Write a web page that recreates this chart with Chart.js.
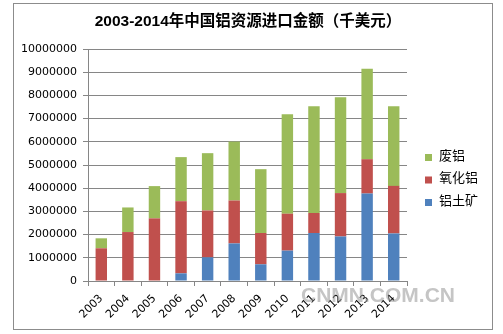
<!DOCTYPE html>
<html>
<head>
<meta charset="utf-8">
<script src="https://cdn.jsdelivr.net/npm/chart.js@4/dist/chart.umd.min.js"></script>
<style>
html,body{margin:0;padding:0;background:#fff;}
#wrap{position:relative;width:503px;height:334px;}
</style>
</head>
<body>
<div id="wrap"><canvas id="c" width="503" height="334"></canvas></div>
<script>
const titleText = '2003-2014年中国铝资源进口金额（千美元）';
const categories = ['2003','2004','2005','2006','2007','2008','2009','2010','2011','2012','2013','2014'];
const bauxite = [0, 0, 0, 330000, 1020000, 1620000, 720000, 1310000, 2070000, 1920000, 3770000, 2050000];
const alumina = [1410000, 2110000, 2700000, 3110000, 2020000, 1850000, 1350000, 1590000, 860000, 1870000, 1480000, 2050000];
const scrap = [430000, 1060000, 1390000, 1900000, 2470000, 2540000, 2750000, 4290000, 4600000, 4130000, 3900000, 3430000];
const seriesNames = ['铝土矿', '氧化铝', '废铝'];
const seriesColors = ['#4F81BD', '#C0504D', '#9BBB59'];
const yMax = 10000000;
const yStep = 1000000;
const watermark = 'CNMN.COM.CN';

const FONT = '"Liberation Sans","Noto Sans CJK SC",sans-serif';
const TICKFONT = '"DejaVu Sans","Noto Sans CJK SC",sans-serif';

const decor = {
  id: 'decor',
  beforeDraw(chart) {
    const ctx = chart.ctx;
    ctx.save();
    ctx.fillStyle = '#fff';
    ctx.fillRect(0, 0, chart.width, chart.height);
    ctx.strokeStyle = '#8c8c8c';
    ctx.lineWidth = 1;
    ctx.strokeRect(13.5, 3.5, 479, 326);
    ctx.fillStyle = '#000';
    ctx.font = 'bold 15.5px ' + FONT;
    ctx.textAlign = 'center';
    ctx.textBaseline = 'middle';
    ctx.fillText(titleText, 248, 22);
    ctx.restore();
  },
  afterDraw(chart) {
    const ctx = chart.ctx;
    ctx.save();
    const ys = [156, 178.5, 201];
    const order = [2, 1, 0];
    ctx.font = '13px ' + FONT;
    ctx.textAlign = 'left';
    ctx.textBaseline = 'middle';
    order.forEach((di, i) => {
      const ds = chart.data.datasets[di];
      ctx.fillStyle = ds.backgroundColor;
      ctx.fillRect(425, ys[i] - 2, 7, 7);
      ctx.fillStyle = '#000';
      ctx.fillText(ds.label, 439, ys[i]);
    });
    ctx.font = 'bold 21px ' + FONT;
    ctx.fillStyle = 'rgba(140,140,140,0.5)';
    ctx.textAlign = 'left';
    ctx.textBaseline = 'middle';
    ctx.fillText(watermark, 301, 296);
    ctx.restore();
  }
};

new Chart(document.getElementById('c'), {
  type: 'bar',
  data: {
    labels: categories,
    datasets: [
      { label: seriesNames[0], data: bauxite, backgroundColor: seriesColors[0] },
      { label: seriesNames[1], data: alumina, backgroundColor: seriesColors[1] },
      { label: seriesNames[2], data: scrap, backgroundColor: seriesColors[2] }
    ]
  },
  options: {
    responsive: false,
    animation: false,
    devicePixelRatio: 1,
    layout: { padding: { left: 13, right: 96, top: 49, bottom: 13 } },
    datasets: { bar: { categoryPercentage: 1, barPercentage: 0.43, borderWidth: 0 } },
    plugins: { legend: { display: false }, title: { display: false }, tooltip: { enabled: false } },
    scales: {
      x: {
        stacked: true,
        afterFit(s) { s.height = 40; },
        grid: { display: true, drawOnChartArea: false, drawTicks: true, tickLength: 5, color: '#868686', offset: true },
        border: { color: '#868686' },
        ticks: { color: '#000', font: { size: 11, family: TICKFONT }, minRotation: 45, maxRotation: 45, padding: 6 }
      },
      y: {
        stacked: true,
        min: 0, max: yMax,
        afterFit(s) { s.width = 75; },
        grid: { color: '#868686', tickLength: 5 },
        border: { color: '#868686' },
        ticks: {
          stepSize: yStep, color: '#000', font: { size: 11, family: TICKFONT }, padding: 6,
          callback: (v) => String(v)
        }
      }
    }
  },
  plugins: [decor]
});
</script>
</body>
</html>
